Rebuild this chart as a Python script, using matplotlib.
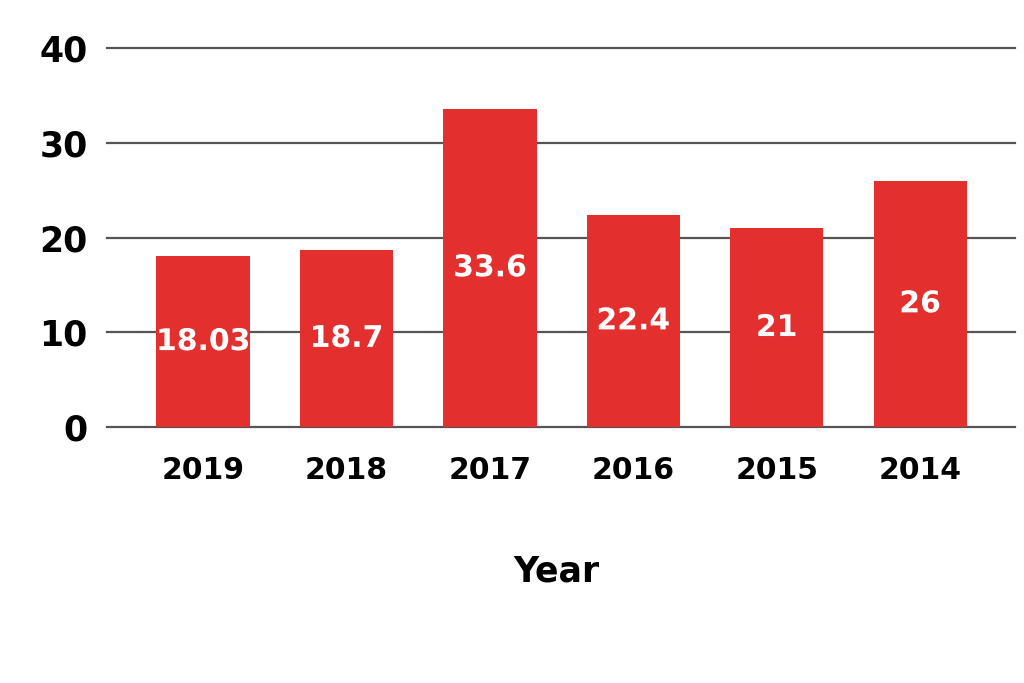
import matplotlib
matplotlib.use("Agg")
import matplotlib.pyplot as plt
import matplotlib.patheffects as pe

years = ["2019", "2018", "2017", "2016", "2015", "2014"]
values = [18.03, 18.7, 33.6, 22.4, 21, 26]
value_labels = ["18.03", "18.7", "33.6", "22.4", "21", "26"]
yticks = [0, 10, 20, 30, 40]

bar_color = "#e3302f"

fig = plt.figure(figsize=(10.24, 6.83), dpi=100)
ax = fig.add_axes([0.1045, 0.3748, 0.8865, 0.5549])

x = list(range(len(years)))
ax.bar(x, values, width=0.65, color=bar_color, zorder=3)

for xi, v, lab in zip(x, values, value_labels):
    ax.text(xi, v / 2, lab, ha="center", va="center", color="white",
            fontsize=21.5, fontweight="bold", family="DejaVu Sans", zorder=4,
            path_effects=[pe.withStroke(linewidth=3, foreground=bar_color)])

ax.set_xlim(-0.67, 5.66)
ax.set_ylim(0, 40)
ax.set_yticks(yticks)
ax.set_yticklabels([str(t) for t in yticks], fontsize=25, fontweight="heavy",
                   family="DejaVu Sans")
ax.set_xticks(x)
ax.set_xticklabels(years, fontsize=21.5, fontweight="bold", family="DejaVu Sans")
ax.tick_params(axis="y", length=0, pad=14)
ax.tick_params(axis="x", length=0, pad=21)

ax.yaxis.grid(True, color="#555555", linewidth=1.6, zorder=0)
for gl in ax.get_ygridlines():
    gl.set_clip_on(False)
ax.set_axisbelow(True)
for s in ax.spines.values():
    s.set_visible(False)

fig.text(0.5435, 1 - 572 / 683, "Year", ha="center", va="center",
         fontsize=25, fontweight="heavy", family="DejaVu Sans")

fig.savefig("out.png", dpi=100)
